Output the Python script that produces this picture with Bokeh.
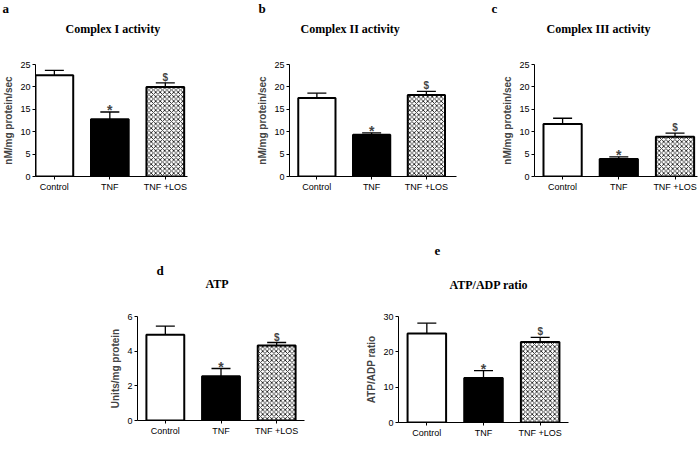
from bokeh.plotting import figure
from bokeh.layouts import row, column, Spacer
from bokeh.models import ColumnDataSource, Range1d, FixedTicker, Whisker, TeeHead, Label
from bokeh.embed import file_html
from bokeh.resources import INLINE

# groups and significance marks
groups = ["Control", "TNF", "TNF +LOS"]
marks = ["", "*", "$"]

# mean and error values
c1_mean = [22.6, 12.8, 20.0]
c1_sem = [1.1, 1.6, 0.9]
c2_mean = [17.5, 9.3, 18.2]
c2_sem = [1.1, 0.45, 0.8]
c3_mean = [11.7, 3.9, 8.9]
c3_sem = [1.3, 0.5, 0.8]
atp_mean = [4.95, 2.55, 4.33]
atp_sem = [0.5, 0.45, 0.17]
ratio_mean = [25.2, 12.6, 22.8]
ratio_sem = [2.9, 2.1, 1.3]

c_ticks = [0, 5, 10, 15, 20, 25]
atp_ticks = [0, 2, 4, 6]
ratio_ticks = [0, 10, 20, 30]

letters = ["a", "b", "c", "d", "e"]
titles = ["Complex I activity", "Complex II activity", "Complex III activity",
          "ATP", "ATP/ADP  ratio"]

fills = ["white", "black", "white"]
hatches = [" ", " ", "x"]


def panel(ylabel, mean, sem, yticks, x_start, x_end, fw, fh, top, right, bottom):
    xs = list(range(len(groups)))
    upper = [m + s for m, s in zip(mean, sem)]
    src = ColumnDataSource(dict(x=xs, mean=mean, upper=upper, fill=fills, hatch=hatches))

    p = figure(x_range=Range1d(x_start, x_end), y_range=Range1d(0, yticks[-1]),
               frame_width=fw, frame_height=fh,
               min_border_left=30, min_border_right=right,
               min_border_top=top, min_border_bottom=bottom,
               output_backend="svg", toolbar_location=None)
    p.vbar(x="x", top="mean", width=0.68, source=src, fill_color="fill",
           line_color="black", line_width=2, hatch_pattern="hatch",
           hatch_color="black", hatch_scale=4.5, hatch_weight=0.8)

    w = Whisker(source=src, base="x", lower="mean", upper="upper", dimension="height",
                line_color="black", line_width=1.3, lower_head=None,
                upper_head=TeeHead(size=19, line_color="black", line_width=1.3))
    p.add_layout(w)

    # significance marks
    for i, mk in enumerate(marks):
        if mk == "*":
            p.add_layout(Label(x=xs[i], y=upper[i], text=mk, text_align="center",
                               text_baseline="middle", text_font="Liberation Sans",
                               text_font_style="bold", text_font_size="14px", y_offset=2))
        elif mk == "$":
            p.add_layout(Label(x=xs[i], y=upper[i], text=mk, text_align="center",
                               text_baseline="bottom", text_font="Liberation Sans",
                               text_font_style="bold", text_font_size="10px", y_offset=0))

    p.xgrid.visible = False
    p.ygrid.visible = False
    p.outline_line_color = None

    p.xaxis.ticker = FixedTicker(ticks=xs)
    p.xaxis.major_label_overrides = {i: g for i, g in enumerate(groups)}
    p.yaxis.ticker = FixedTicker(ticks=yticks)
    p.yaxis.axis_label = ylabel
    p.yaxis.axis_label_text_font = "Liberation Sans"
    p.yaxis.axis_label_text_font_style = "bold"
    p.yaxis.axis_label_text_font_size = "10px"
    p.yaxis.axis_label_standoff = 3
    for ax in (p.xaxis, p.yaxis):
        ax.axis_line_color = "black"
        ax.axis_line_width = 1
        ax.major_tick_line_color = "black"
        ax.major_tick_out = 3
        ax.major_tick_in = 0
        ax.minor_tick_line_color = None
        ax.major_label_text_font = "Liberation Sans"
        ax.major_label_text_color = "black"
        ax.major_label_standoff = 2
    p.xaxis.major_label_text_font_size = "9px"
    p.yaxis.major_label_text_font_size = "9px"
    return p


def band(items, height):
    # a blank strip that carries the panel letters and titles
    b = figure(x_range=Range1d(0, 683), y_range=Range1d(0, height),
               frame_width=683, frame_height=height, min_border=0,
               x_axis_location=None, y_axis_location=None,
               output_backend="svg", toolbar_location=None)
    b.xgrid.visible = False
    b.ygrid.visible = False
    b.outline_line_color = None
    for t, x, y, size in items:
        b.add_layout(Label(x=x, y=y, text=t, text_align="left", text_baseline="alphabetic",
                           text_font="Liberation Serif", text_font_style="bold",
                           text_font_size="%dpx" % size, text_color="black"))
    return b


top_band = band([(letters[0], 2, 50, 13), (titles[0], 65, 30, 12),
                 (letters[1], 258, 50, 13), (titles[1], 300, 30, 12),
                 (letters[2], 491, 50, 13), (titles[2], 546, 30, 12)], 58)

pa = panel("nM/mg protein/sec", c1_mean, c1_sem, c_ticks, -0.34, 2.4, 152, 112, 6, 67, 30)
pb = panel("nM/mg protein/sec", c2_mean, c2_sem, c_ticks, -0.5, 2.55, 167, 112, 6, 43, 30)
pc = panel("nM/mg protein/sec", c3_mean, c3_sem, c_ticks, -0.5, 2.4, 163, 112, 6, 1, 30)

bottom_band = band([(letters[3], 156, 38, 13), (titles[3], 205, 25, 12),
                    (letters[4], 434, 58, 13), (titles[4], 449, 24, 12)], 102)

pd = panel("Units/mg protein", atp_mean, atp_sem, atp_ticks, -0.5, 2.5, 167, 104, 8, 59, 17)
pe = panel("ATP/ADP ratio", ratio_mean, ratio_sem, ratio_ticks, -0.5, 2.5, 170, 106, 6, 10, 17)

layout = column(top_band, row(pa, pb, pc), bottom_band,
                row(Spacer(width=107, height=10), pd, pe))

open("out.html", "w").write(file_html(layout, INLINE))
